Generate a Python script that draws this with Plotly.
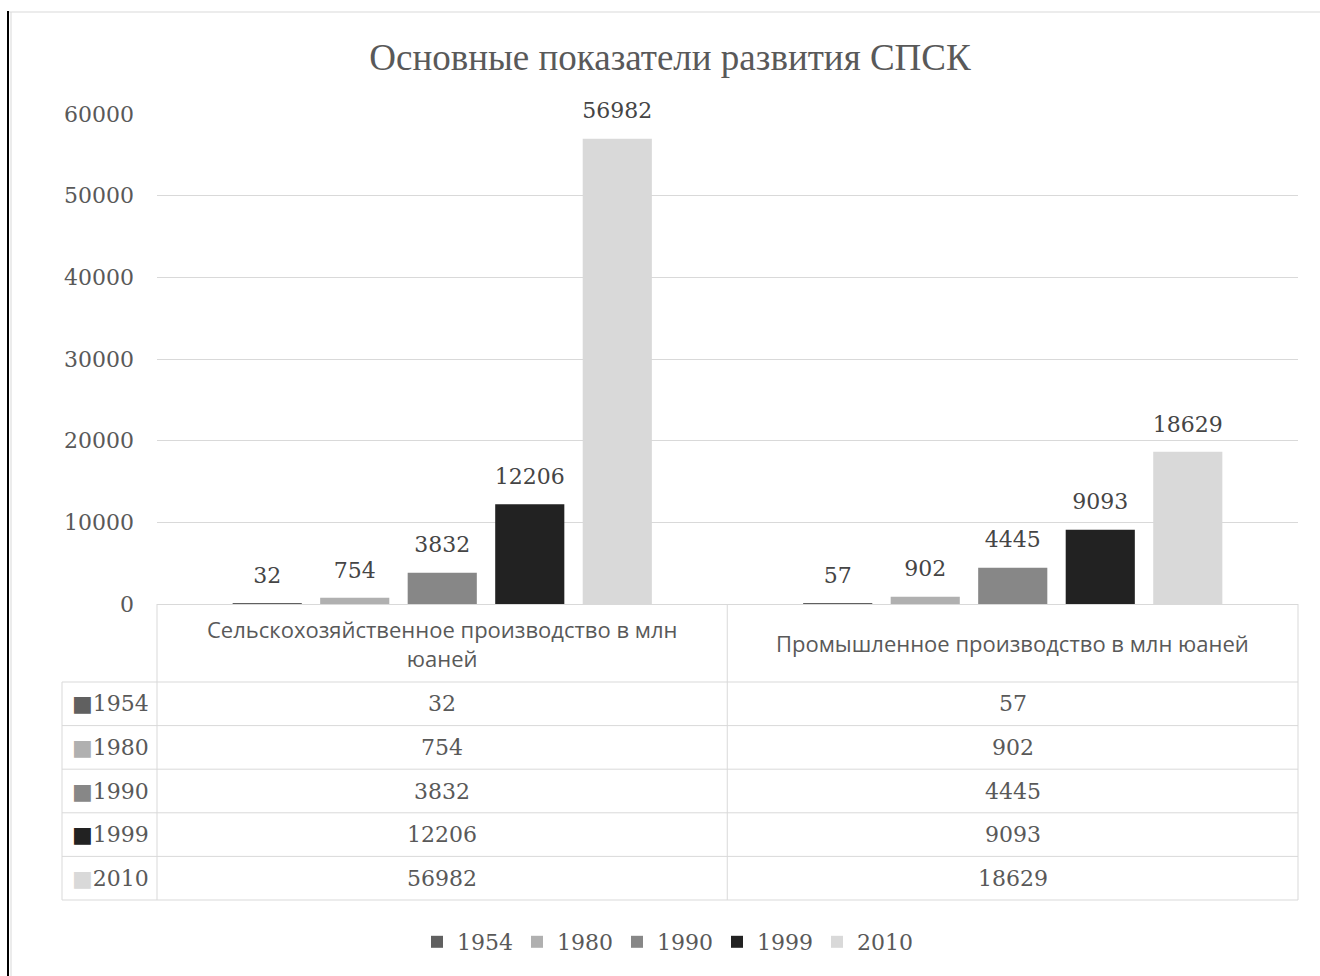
import textwrap
import plotly.graph_objects as go

# ---------------- data ----------------
categories = [
    "Сельскохозяйственное производство в млн юаней",
    "Промышленное производство в млн юаней",
]
years = ["1954", "1980", "1990", "1999", "2010"]
values_1954 = [32, 57]
values_1980 = [754, 902]
values_1990 = [3832, 4445]
values_1999 = [12206, 9093]
values_2010 = [56982, 18629]
series_values = [values_1954, values_1980, values_1990, values_1999, values_2010]
y_tick_values = [0, 10000, 20000, 30000, 40000, 50000, 60000]
title_text = "Основные показатели развития СПСК"

# ---------------- style ----------------
colors = ["#606060", "#b0b0b0", "#878787", "#222222", "#d9d9d9"]
W, H = 1320, 976
ML, MR, MT, MB = 157, 22, 114, 0
PW, PH = W - ML - MR, H - MT - MB
GRID = "#d9d9d9"
TXT = "#595959"
NUM_FONT = "DejaVu Serif"


def py(p):  # pixel y -> paper y
    return (H - MB - p) / PH


def px(p):  # pixel x -> paper x
    return (p - ML) / PW


axis_bottom = 604
header_bottom = 682
row_h = 43.6

fig = go.Figure()
for yr, vals, col in zip(years, series_values, colors):
    fig.add_trace(go.Bar(x=categories, y=vals, name=yr, marker=dict(color=col, line=dict(width=0))))

for yr, vals in zip(years, series_values):
    fig.add_trace(go.Scatter(
        x=categories, y=vals, mode="markers+text", text=[str(v) for v in vals],
        textposition="top center", showlegend=False, cliponaxis=False, hoverinfo="skip",
        marker=dict(size=22, color="rgba(0,0,0,0)"),
        textfont=dict(family=NUM_FONT, size=22, color="#454545"),
    ))

shapes = []
line = dict(color=GRID, width=1)
# table horizontal lines
for i in range(len(years) + 1):
    yy = py(header_bottom + i * row_h)
    shapes.append(dict(type="line", xref="paper", yref="paper", x0=px(62), x1=px(1298), y0=yy, y1=yy, line=line))
# table vertical lines
shapes.append(dict(type="line", xref="paper", yref="paper", x0=px(62), x1=px(62),
                   y0=py(header_bottom), y1=py(header_bottom + len(years) * row_h), line=line))
for xx in [157, 727.25, 1298]:
    shapes.append(dict(type="line", xref="paper", yref="paper", x0=px(xx), x1=px(xx),
                       y0=py(axis_bottom), y1=py(header_bottom + len(years) * row_h), line=line))
# frame lines
shapes.append(dict(type="line", xref="paper", yref="paper", x0=px(8), x1=px(8), y0=py(11), y1=py(976),
                   line=dict(color="#000000", width=2)))
shapes.append(dict(type="line", xref="paper", yref="paper", x0=px(11), x1=px(11), y0=py(12), y1=py(976),
                   line=dict(color=GRID, width=1)))
shapes.append(dict(type="line", xref="paper", yref="paper", x0=px(9), x1=px(1320), y0=py(12), y1=py(12),
                   line=dict(color=GRID, width=1)))

annotations = []
for cat in categories:
    annotations.append(dict(
        x=cat, xref="x", y=py((axis_bottom + header_bottom) / 2), yref="paper",
        text="<br>".join(textwrap.wrap(cat, 40)), showarrow=False,
        font=dict(family="Open Sans", size=22, color=TXT), xanchor="center", yanchor="middle",
    ))
for i, (yr, vals, col) in enumerate(zip(years, series_values, colors)):
    yc = py(header_bottom + (i + 0.5) * row_h)
    annotations.append(dict(
        x=px(110), xref="paper", y=yc, yref="paper",
        text=f"<span style='color:{col}'>■</span>{yr}", showarrow=False,
        font=dict(family=NUM_FONT, size=22, color=TXT), xanchor="center", yanchor="middle",
    ))
    for cat, v in zip(categories, vals):
        annotations.append(dict(
            x=cat, xref="x", y=yc, yref="paper", text=str(v), showarrow=False,
            font=dict(family=NUM_FONT, size=22, color=TXT), xanchor="center", yanchor="middle",
        ))

fig.update_layout(
    width=W, height=H,
    margin=dict(l=ML, r=MR, t=MT, b=MB, autoexpand=False),
    paper_bgcolor="white", plot_bgcolor="white",
    barmode="group", bargap=0.233, bargroupgap=0.21,
    scattermode="group", scattergap=0.233,
    font=dict(family=NUM_FONT, size=22, color=TXT),
    title=dict(text=title_text, x=670 / W, xref="container", xanchor="center",
               y=1 - 57 / H, yref="container", yanchor="middle",
               font=dict(family="Liberation Serif", size=37, color=TXT)),
    xaxis=dict(showticklabels=False, showgrid=False, showline=True, linecolor=GRID, linewidth=1,
               ticks="", zeroline=False),
    yaxis=dict(domain=[py(axis_bottom), 1], range=[0, 60000], tickvals=y_tick_values, tickformat="d",
               showgrid=True, gridcolor=GRID, gridwidth=1, zeroline=False, showline=False,
               ticklabelstandoff=22, tickfont=dict(family=NUM_FONT, size=22, color=TXT)),
    legend=dict(orientation="h", x=px(667), xanchor="center", y=py(942), yanchor="middle",
                font=dict(family=NUM_FONT, size=22, color=TXT), traceorder="normal",
                entrywidth=55, entrywidthmode="pixels", itemclick=False),
    shapes=shapes,
    annotations=annotations,
    showlegend=True,
)

fig.write_html(
    "out.html",
    config={"displayModeBar": False},
    post_script="document.body.style.margin='0';document.body.style.overflow='hidden';",
)
